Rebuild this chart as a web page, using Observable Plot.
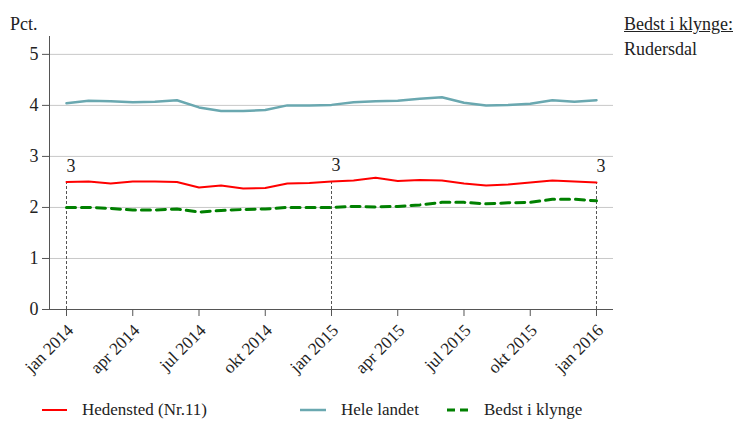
<!DOCTYPE html>
<html>
<head>
<meta charset="utf-8">
<script src="https://cdn.jsdelivr.net/npm/d3@7"></script>
<script src="https://cdn.jsdelivr.net/npm/@observablehq/plot@0.6"></script>
<style>
  html, body { margin: 0; padding: 0; background: #fff; }
  #wrap { position: relative; width: 733px; height: 421px; font-family: "Liberation Serif", "Times New Roman", serif; color: #222; }
  #wrap svg text { font-family: "Liberation Serif", "Times New Roman", serif !important; }
  .abs { position: absolute; white-space: nowrap; line-height: 18px; }
  .leg { position: absolute; top: 401px; height: 18px; font-size: 17px; line-height: 18px; display: flex; align-items: center; white-space: nowrap; }
  .leg svg { margin-right: 15px; }
</style>
</head>
<body>
<div id="wrap"></div>
<script>
// Months Jan 2014 .. Jan 2016 (index 0..24)
const monthIndex = d3.range(25);
const tickIndex = [0, 3, 6, 9, 12, 15, 18, 21, 24];
const tickLabels = ["jan 2014", "apr 2014", "jul 2014", "okt 2014", "jan 2015", "apr 2015", "jul 2015", "okt 2015", "jan 2016"];
const yTicks = [0, 1, 2, 3, 4, 5];

const hedensted = [2.50, 2.51, 2.47, 2.51, 2.51, 2.50, 2.39, 2.43, 2.37, 2.38, 2.47, 2.48, 2.51, 2.53, 2.58, 2.52, 2.54, 2.53, 2.47, 2.43, 2.45, 2.49, 2.53, 2.51, 2.49];
const heleLandet = [4.04, 4.09, 4.08, 4.06, 4.07, 4.10, 3.96, 3.89, 3.89, 3.91, 4.00, 4.00, 4.01, 4.06, 4.08, 4.09, 4.13, 4.16, 4.05, 4.00, 4.01, 4.03, 4.10, 4.07, 4.10];
const bedstIKlynge = [2.00, 2.00, 1.98, 1.95, 1.95, 1.97, 1.91, 1.94, 1.96, 1.97, 2.00, 2.00, 2.00, 2.02, 2.01, 2.02, 2.05, 2.10, 2.10, 2.07, 2.09, 2.10, 2.16, 2.16, 2.13];

// Rank annotations
const rankIndex = [0, 12, 24];
const rankLabels = ["3", "3", "3"];

const seriesNames = ["Hedensted (Nr.11)", "Hele landet", "Bedst i klynge"];
const seriesColors = ["#ff0000", "#6aa8b0", "#008000"];
const bestName = "Rudersdal";

const toRows = (vals) => monthIndex.map((i) => ({i, v: vals[i]}));
const hRows = toRows(hedensted);
const lRows = toRows(heleLandet);
const bRows = toRows(bedstIKlynge);
const rankRows = rankIndex.map((i, k) => ({i, v: hedensted[i], label: rankLabels[k]}));

const xDomain = [-0.77, 24.77];
const serif = "Liberation Serif";

const chart = Plot.plot({
  width: 733,
  height: 421,
  marginLeft: 49,
  marginRight: 120,
  marginTop: 36,
  marginBottom: 112,
  style: {fontSize: "18px", color: "#222", background: "transparent"},
  x: {domain: xDomain},
  y: {domain: [0, 5.35]},
  marks: [
    Plot.gridY(yTicks.slice(1), {stroke: "#c8c8c8", strokeOpacity: 1, strokeWidth: 1}),
    Plot.ruleX([xDomain[0]], {stroke: "#555", strokeWidth: 1}),
    Plot.ruleY([0], {stroke: "#555", strokeWidth: 1}),
    Plot.axisY({ticks: yTicks, tickFormat: (d) => String(d), tickSize: 7, tickPadding: 4, label: null, stroke: "#555", fontSize: 18, fontFamily: serif}),
    // tick marks only
    Plot.axisX({ticks: tickIndex, tickFormat: () => "", tickSize: 7, label: null, stroke: "#555"}),
    // rotated tick labels
    Plot.axisX({ticks: tickIndex, tickFormat: (d) => tickLabels[tickIndex.indexOf(d)], tickRotate: -45, tickSize: 0, tickPadding: 18, dx: 4, label: null, fontSize: 17.3, fontFamily: serif}),
    Plot.ruleX(rankRows, {x: "i", y1: 0, y2: "v", stroke: "#555", strokeWidth: 1, strokeDasharray: "3,2"}),
    Plot.line(lRows, {x: "i", y: "v", stroke: seriesColors[1], strokeWidth: 2.5}),
    Plot.line(hRows, {x: "i", y: "v", stroke: seriesColors[0], strokeWidth: 2}),
    Plot.line(bRows, {x: "i", y: "v", stroke: seriesColors[2], strokeWidth: 3, strokeDasharray: "9,6"}),
    Plot.text(rankRows, {x: "i", y: "v", text: "label", textAnchor: "start", dy: -16, fontSize: 18, fill: "#222", fontFamily: serif})
  ]
});

const wrap = document.getElementById("wrap");
wrap.appendChild(chart);
chart.style.position = "absolute";
chart.style.left = "0";
chart.style.top = "0";
chart.setAttribute("font-family", serif);

function addAbs(text, left, top, size, extra) {
  const d = document.createElement("div");
  d.className = "abs";
  d.textContent = text;
  d.style.left = left + "px";
  d.style.top = top + "px";
  d.style.fontSize = size + "px";
  if (extra) Object.assign(d.style, extra);
  wrap.appendChild(d);
}
addAbs("Pct.", 10, 15, 18);
addAbs("Bedst i klynge:", 624, 15, 18, {textDecoration: "underline"});
addAbs(bestName, 624, 40, 18);

const legendX = [42, 300, 447];
const legendDash = [null, null, "8,5"];
const legendW = [2, 2.5, 3];
const legendLen = [25, 26, 22];
seriesNames.forEach((name, k) => {
  const item = document.createElement("div");
  item.className = "leg";
  item.style.left = legendX[k] + "px";
  const ns = "http://www.w3.org/2000/svg";
  const s = document.createElementNS(ns, "svg");
  s.setAttribute("width", legendLen[k]);
  s.setAttribute("height", 10);
  const ln = document.createElementNS(ns, "line");
  ln.setAttribute("x1", 0); ln.setAttribute("x2", legendLen[k]);
  ln.setAttribute("y1", 5); ln.setAttribute("y2", 5);
  ln.setAttribute("stroke", seriesColors[k]);
  ln.setAttribute("stroke-width", legendW[k]);
  if (legendDash[k]) ln.setAttribute("stroke-dasharray", legendDash[k]);
  s.appendChild(ln);
  item.appendChild(s);
  const t = document.createElement("span");
  t.textContent = name;
  item.appendChild(t);
  wrap.appendChild(item);
});
</script>
</body>
</html>
